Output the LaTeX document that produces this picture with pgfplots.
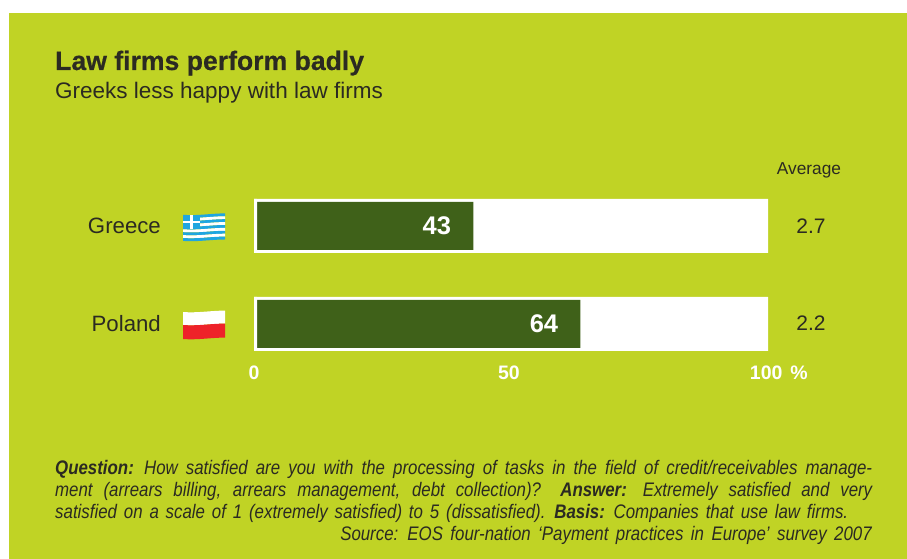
\documentclass[border=0pt]{standalone}
\usepackage{pgfplots}
\usepackage{fontspec}
\pgfplotsset{compat=1.18}
\setmainfont{Liberation Sans}
\newfontfamily\notefont[FakeStretch=0.86,WordSpace=1.6]{Liberation Sans}
\newfontfamily\headfont[BoldFeatures={FakeBold=0.4}]{Liberation Sans}
\definecolor{panel}{HTML}{C0D325}
\definecolor{bardark}{HTML}{3F6119}
\definecolor{ink}{HTML}{2B2A22}
\definecolor{flagblue}{HTML}{1FA6E0}
\definecolor{flagred}{HTML}{EE2229}
% one wavy band of a flag: #1 colour, #2 upper y, #3 lower y, #4 left x, #5 right x
\newcommand{\band}[5]{%
  \fill[#1] (#4,#2) .. controls ({#4+(#5-#4)/3},#2-1.2) and ({#4+2*(#5-#4)/3},#2+1.4) .. (#5,#2+1.4)
    -- (#5,#3+1.4) .. controls ({#4+2*(#5-#4)/3},#3+1.4) and ({#4+(#5-#4)/3},#3-1.2) .. (#4,#3) -- cycle;}
\begin{document}
\begin{tikzpicture}[x=1pt,y=1pt]
\fill[white] (0,0) rectangle (907,559);
\fill[panel] (9,0) rectangle (907,546);
\path[use as bounding box] (0,0) rectangle (907,559);

% headline
\node[anchor=base west,inner sep=0pt,text=ink,font=\fontsize{26.6}{28}\selectfont\headfont\bfseries] at (55,489) {Law firms perform badly};
\node[anchor=base west,inner sep=0pt,text=ink,font=\fontsize{22.5}{24}\selectfont] at (55,460.5) {Greeks less happy with law firms};

% satisfaction bars
\begin{axis}[
  at={(254pt,207.6pt)},anchor=south west,
  scale only axis,width=514pt,height=174.4pt,
  xmin=0,xmax=100.8,ymin=-0.5,ymax=1.28,
  y dir=reverse,clip=false,
  axis line style={draw=none},
  major tick length=0pt,
  xtick={0,50,100},
  xticklabels={0,50,\makebox[0pt][l]{\hspace{-14pt}100\hspace{8pt}\%}},
  xticklabel style={text=white,font=\fontsize{19.5}{21}\selectfont\bfseries,inner sep=0pt,yshift=-14pt},
  ytick={0,1},
  yticklabels={Greece,Poland},
  yticklabel style={text=ink,font=\fontsize{22.2}{24}\selectfont,inner sep=0pt,xshift=-93pt},
  /pgf/number format/assume math mode=true,
  xbar,bar shift=0pt,
]
\addplot[fill=white,draw=none,bar width=54pt] coordinates {(100.8,0) (100.8,1)};
\addplot[fill=bardark,draw=none,bar width=48pt,
  nodes near coords,
  every node near coord/.append style={anchor=east,xshift=-22pt,text=white,inner sep=0pt,font=\fontsize{25.5}{28}\selectfont\bfseries}]
  coordinates {(43,0) (64,1)};
% white margin at the foot of each bar
\addplot[fill=white,draw=none,bar width=54pt] coordinates {(0.6,0) (0.6,1)};
\end{axis}

% average score column
\node[text=ink,inner sep=0pt,font=\fontsize{17.3}{19}\selectfont] at (809,388.5) {Average};
\node[text=ink,inner sep=0pt,font=\fontsize{21}{24}\selectfont] at (811,333) {2.7};
\node[text=ink,inner sep=0pt,font=\fontsize{21}{24}\selectfont] at (811,236) {2.2};

% Greek flag
\foreach \i in {0,...,8} {
  \pgfmathsetmacro{\up}{344.2-\i*2.9}
  \pgfmathsetmacro{\lo}{\up-2.9}
  \pgfmathtruncatemacro{\odd}{mod(\i,2)}
  \ifnum\odd=0 \band{flagblue}{\up}{\lo}{183}{225}\else \band{white}{\up}{\lo}{183}{225}\fi
}
\fill[flagblue] (183,329.6) rectangle (200,344);
\fill[white] (190.3,329.6) rectangle (192.9,344);
\fill[white] (183,335.5) rectangle (200,338.1);

% Polish flag
\band{white}{247}{234}{183}{225}
\band{flagred}{234}{220}{183}{225}

% question wording
\begin{scope}[every node/.style={anchor=base west,inner sep=0pt,text=ink,font=\fontsize{19.6}{22}\selectfont\notefont\itshape}]
\node at (55,84) {\makebox[817pt][s]{{\bfseries Question:} How satisfied are you with the processing of tasks in the field of credit/receivables manage-}};
\node at (55,62) {\makebox[817pt][s]{ment (arrears billing, arrears management, debt collection)? {\bfseries Answer:} Extremely satisfied and very}};
\node at (55,40.5) {\makebox[793pt][s]{satisfied on a scale of 1 (extremely satisfied) to 5 (dissatisfied). {\bfseries Basis:} Companies that use law firms.}};
\node[anchor=base east] at (872,18) {Source: EOS four-nation ‘Payment practices in Europe’ survey 2007};
\end{scope}
\end{tikzpicture}
\end{document}
